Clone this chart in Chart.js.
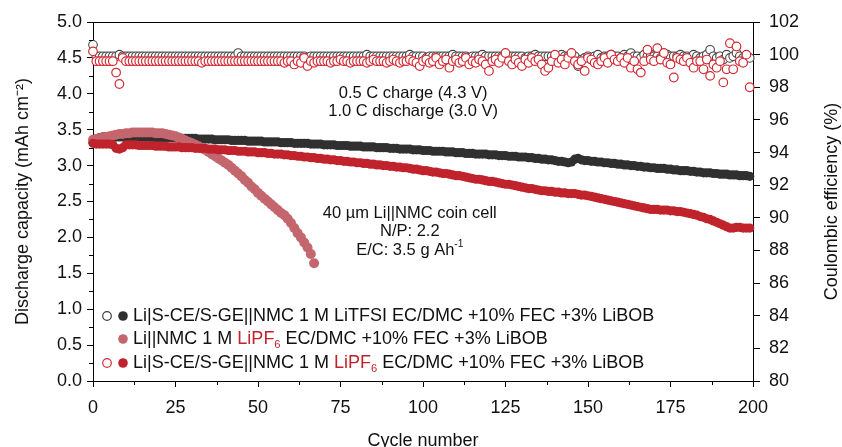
<!DOCTYPE html>
<html>
<head>
<meta charset="utf-8">
<script src="https://cdn.jsdelivr.net/npm/chart.js@4.4.1/dist/chart.umd.min.js"></script>
<style>
  html, body { margin: 0; padding: 0; background: #fff; overflow: hidden; }
  #wrap { width: 842px; height: 447px; overflow: hidden; }
</style>
</head>
<body>
<div id="wrap"><canvas id="cap" width="842" height="460"></canvas></div>
<script>
const FONT = '"Liberation Sans", Arial, Helvetica, sans-serif'
const RED = '#c1232c'
const RED_CE = '#d42a33'
const PINK = '#c4666d'
const DARK = '#303030'

// discharge capacity (mAh cm-2), one value per cycle starting at cycle 0
const capTFSI = [
  3.32, 3.37, 3.39, 3.40, 3.40, 3.40, 3.40, 3.40, 3.40, 3.40,
  3.40, 3.40, 3.40, 3.40, 3.40, 3.40, 3.40, 3.40, 3.39, 3.39,
  3.39, 3.39, 3.39, 3.39, 3.39, 3.39, 3.38, 3.38, 3.38, 3.38,
  3.38, 3.38, 3.37, 3.37, 3.37, 3.37, 3.37, 3.36, 3.36, 3.36,
  3.36, 3.36, 3.35, 3.35, 3.35, 3.35, 3.35, 3.34, 3.34, 3.34,
  3.34, 3.34, 3.33, 3.33, 3.33, 3.33, 3.33, 3.32, 3.32, 3.32,
  3.32, 3.31, 3.31, 3.31, 3.31, 3.31, 3.30, 3.30, 3.30, 3.30,
  3.29, 3.29, 3.29, 3.29, 3.28, 3.28, 3.28, 3.28, 3.27, 3.27,
  3.27, 3.27, 3.26, 3.26, 3.26, 3.26, 3.25, 3.25, 3.25, 3.25,
  3.24, 3.24, 3.24, 3.23, 3.23, 3.23, 3.23, 3.22, 3.22, 3.22,
  3.21, 3.21, 3.21, 3.20, 3.20, 3.20, 3.20, 3.19, 3.19, 3.19,
  3.18, 3.18, 3.18, 3.17, 3.17, 3.17, 3.16, 3.16, 3.16, 3.16,
  3.15, 3.15, 3.15, 3.14, 3.14, 3.14, 3.13, 3.13, 3.13, 3.12,
  3.12, 3.12, 3.11, 3.11, 3.10, 3.10, 3.09, 3.09, 3.08, 3.08,
  3.07, 3.06, 3.06, 3.05, 3.04, 3.05, 3.09, 3.10, 3.08, 3.07,
  3.07, 3.06, 3.06, 3.05, 3.05, 3.04, 3.04, 3.03, 3.03, 3.02,
  3.02, 3.01, 3.01, 3.00, 3.00, 2.99, 2.99, 2.98, 2.98, 2.97,
  2.97, 2.96, 2.96, 2.96, 2.95, 2.95, 2.94, 2.94, 2.93, 2.93,
  2.93, 2.92, 2.92, 2.91, 2.91, 2.90, 2.90, 2.90, 2.89, 2.89,
  2.88, 2.88, 2.88, 2.87, 2.87, 2.87, 2.86, 2.86, 2.86, 2.85
]
const capBare = [
  3.36, 3.37, 3.38, 3.39, 3.40, 3.41, 3.42, 3.43, 3.44, 3.44,
  3.45, 3.45, 3.46, 3.46, 3.46, 3.46, 3.46, 3.46, 3.46, 3.45,
  3.45, 3.45, 3.44, 3.43, 3.42, 3.41, 3.39, 3.37, 3.35, 3.33,
  3.31, 3.29, 3.27, 3.24, 3.22, 3.19, 3.16, 3.13, 3.10, 3.07,
  3.04, 3.01, 2.97, 2.93, 2.89, 2.85, 2.80, 2.76, 2.71, 2.67,
  2.62, 2.58, 2.54, 2.50, 2.46, 2.42, 2.38, 2.34, 2.31, 2.26,
  2.20, 2.13, 2.06, 2.00, 1.93, 1.86, 1.77, 1.64
]
const capPF6 = [
  3.31, 3.30, 3.30, 3.30, 3.30, 3.30, 3.29, 3.24, 3.23, 3.25,
  3.29, 3.29, 3.29, 3.29, 3.28, 3.28, 3.28, 3.28, 3.28, 3.27,
  3.27, 3.27, 3.27, 3.26, 3.26, 3.26, 3.26, 3.25, 3.25, 3.25,
  3.25, 3.24, 3.24, 3.24, 3.24, 3.23, 3.23, 3.23, 3.22, 3.22,
  3.22, 3.21, 3.21, 3.21, 3.20, 3.20, 3.20, 3.19, 3.19, 3.19,
  3.18, 3.18, 3.18, 3.17, 3.17, 3.16, 3.16, 3.16, 3.15, 3.15,
  3.14, 3.14, 3.13, 3.13, 3.12, 3.12, 3.11, 3.11, 3.10, 3.10,
  3.09, 3.09, 3.08, 3.08, 3.07, 3.07, 3.06, 3.06, 3.05, 3.05,
  3.04, 3.04, 3.03, 3.03, 3.02, 3.02, 3.01, 3.01, 3.00, 3.00,
  2.99, 2.99, 2.98, 2.98, 2.97, 2.97, 2.96, 2.95, 2.95, 2.94,
  2.93, 2.93, 2.92, 2.91, 2.91, 2.90, 2.89, 2.89, 2.88, 2.87,
  2.86, 2.86, 2.85, 2.84, 2.83, 2.82, 2.81, 2.81, 2.80, 2.79,
  2.78, 2.78, 2.77, 2.76, 2.75, 2.74, 2.74, 2.73, 2.72, 2.71,
  2.70, 2.69, 2.68, 2.68, 2.67, 2.66, 2.65, 2.65, 2.64, 2.64,
  2.63, 2.63, 2.62, 2.62, 2.61, 2.61, 2.61, 2.60, 2.59, 2.59,
  2.58, 2.57, 2.56, 2.55, 2.54, 2.53, 2.52, 2.51, 2.50, 2.49,
  2.48, 2.47, 2.46, 2.45, 2.44, 2.43, 2.42, 2.41, 2.40, 2.39,
  2.39, 2.39, 2.38, 2.38, 2.38, 2.37, 2.37, 2.36, 2.36, 2.35,
  2.34, 2.33, 2.32, 2.31, 2.29, 2.28, 2.26, 2.25, 2.23, 2.21,
  2.19, 2.17, 2.15, 2.13, 2.13, 2.14, 2.14, 2.13, 2.13, 2.13
]

// coulombic efficiency (%)
const ceTFSI = [
  100.6, 99.9, 99.9, 99.9, 99.9, 99.9, 99.9, 99.9, 100.0, 99.9,
  99.9, 99.9, 99.9, 99.9, 99.9, 99.9, 99.9, 99.9, 99.9, 99.9,
  99.9, 99.9, 99.9, 99.9, 99.9, 99.9, 99.9, 99.9, 99.9, 99.9,
  99.9, 99.9, 99.9, 99.9, 99.9, 99.9, 99.9, 99.9, 99.9, 99.9,
  99.9, 99.9, 99.9, 99.9, 100.1, 99.9, 99.9, 99.9, 99.9, 99.9,
  99.9, 99.9, 99.9, 99.9, 99.9, 99.9, 99.9, 99.9, 99.9, 99.9,
  99.9, 99.9, 99.9, 99.9, 99.9, 99.8, 99.9, 99.9, 99.9, 99.9,
  99.9, 99.9, 99.9, 99.9, 99.9, 99.9, 99.9, 99.9, 99.9, 99.9,
  99.9, 99.9, 99.9, 100.0, 99.9, 99.9, 99.9, 99.9, 99.9, 99.9,
  99.9, 99.9, 99.9, 99.9, 99.9, 99.9, 100.0, 99.9, 99.9, 99.9,
  99.9, 99.8, 99.9, 99.9, 99.9, 99.9, 99.9, 99.9, 99.9, 100.0,
  99.9, 99.9, 99.9, 99.9, 99.8, 99.9, 99.9, 99.9, 100.0, 99.9,
  99.9, 99.9, 99.9, 99.9, 99.9, 100.0, 99.9, 99.9, 99.9, 99.9,
  99.9, 99.8, 99.9, 99.9, 100.0, 99.9, 99.9, 99.9, 99.9, 99.9,
  99.9, 99.9, 100.0, 99.9, 99.9, 99.9, 99.9, 99.3, 99.7, 99.8,
  99.9, 99.7, 99.9, 100.0, 99.8, 99.9, 99.9, 100.0, 99.9, 99.9,
  99.8, 100.0, 99.9, 100.1, 99.9, 99.9, 99.8, 100.0, 99.9, 100.0,
  99.9, 99.9, 99.8, 99.9, 100.0, 99.9, 99.9, 99.9, 100.0, 99.9,
  99.9, 99.8, 100.0, 99.9, 99.8, 99.9, 100.0, 100.3, 99.9, 99.8,
  99.9, 99.7, 100.0, 99.8, 99.9, 100.1, 99.9, 99.8, 99.9, 99.8
]
const cePF6 = [
  100.2, 99.6, 99.6, 99.6, 99.6, 99.6, 99.6, 98.9, 98.2, 99.8,
  99.6, 99.6, 99.6, 99.6, 99.6, 99.6, 99.6, 99.6, 99.6, 99.6,
  99.6, 99.6, 99.6, 99.6, 99.6, 99.6, 99.6, 99.6, 99.6, 99.6,
  99.6, 99.6, 99.6, 99.5, 99.6, 99.6, 99.6, 99.6, 99.6, 99.6,
  99.6, 99.6, 99.6, 99.6, 99.6, 99.6, 99.6, 99.6, 99.6, 99.6,
  99.6, 99.6, 99.6, 99.6, 99.6, 99.6, 99.6, 99.6, 99.5, 99.6,
  99.6, 99.4, 99.6, 99.5, 99.8, 99.3, 99.6, 99.5, 99.6, 99.6,
  99.6, 99.6, 99.5, 99.6, 99.6, 99.7, 99.6, 99.6, 99.5, 99.6,
  99.6, 99.6, 99.6, 99.5, 99.6, 99.7, 99.6, 99.6, 99.6, 99.5,
  99.6, 99.7, 99.6, 99.5, 99.6, 99.6, 99.7, 99.6, 99.5, 99.3,
  99.6, 99.7, 99.5, 99.6, 99.8, 99.4, 99.6, 99.7, 99.2, 99.6,
  99.7, 99.5, 99.6, 99.8, 99.4, 99.6, 99.5, 99.7, 99.6, 99.4,
  99.0, 99.6, 99.7, 99.5, 99.8, 100.1, 99.6, 99.4, 99.7, 99.5,
  99.3, 99.7, 99.5, 99.8, 99.6, 99.7, 99.4, 99.0, 99.2, 99.6,
  100.0, 99.5, 99.7, 99.4, 99.8, 100.1, 99.6, 99.4, 99.6, 99.0,
  99.8, 99.7, 99.5, 99.4, 99.6, 99.8, 99.5, 100.0, 99.7, 99.6,
  99.8, 99.5, 99.8, 99.2, 99.6, 99.1, 98.9, 99.6, 100.3, 99.7,
  99.6, 100.4, 99.7, 100.1, 99.5, 99.4, 98.6, 99.8, 99.7, 99.6,
  99.8, 99.5, 99.2, 99.6, 99.6, 99.1, 99.7, 98.7, 99.4, 99.2,
  99.6, 98.3, 99.1, 100.7, 99.1, 100.5, 99.6, 99.5, 100.0, 98.0
]

const xTicks = [0, 25, 50, 75, 100, 125, 150, 175, 200]
const xMinor = [12.5, 37.5, 62.5, 87.5, 112.5, 137.5, 162.5, 187.5]
const capTicks = [0, 0.5, 1, 1.5, 2, 2.5, 3, 3.5, 4, 4.5, 5]
const capMinor = [0.25, 0.75, 1.25, 1.75, 2.25, 2.75, 3.25, 3.75, 4.25, 4.75]
const ceTicks = [80, 82, 84, 86, 88, 90, 92, 94, 96, 98, 100, 102]

const legendRows = [
  { open: '#3c3c3c', fill: DARK, parts: [['Li|S-CE/S-GE||NMC 1 M LiTFSI EC/DMC +10% FEC +3% LiBOB', '#111']] },
  { open: null, fill: PINK, parts: [['Li||NMC 1 M ', '#111'], ['LiPF', RED], ['6', RED, 'sub'], [' EC/DMC +10% FEC +3% LiBOB', '#111']] },
  { open: RED_CE, fill: RED, parts: [['Li|S-CE/S-GE||NMC 1 M ', '#111'], ['LiPF', RED], ['6', RED, 'sub'], [' EC/DMC +10% FEC +3% LiBOB', '#111']] }
]

// notes placed in data units (cycle, capacity)
const notes = [
  { x: 97, y: 4.01, parts: [['0.5 C charge (4.3 V)']] },
  { x: 97, y: 3.76, parts: [['1.0 C discharge (3.0 V)']] },
  { x: 96, y: 2.33, parts: [['40 µm Li||NMC coin cell']] },
  { x: 96, y: 2.08, parts: [['N/P: 2.2']] },
  { x: 96, y: 1.82, parts: [['E/C: 3.5 g Ah'], ['-1', 'sup']] }
]

function pts(arr) {
  return arr.map((v, i) => ({ x: i, y: v }))
}

// text runs with optional sub/superscript pieces
function runWidth(ctx, parts, size) {
  let w = 0
  parts.forEach(p => {
    const small = p.includes('sub') || p.includes('sup')
    ctx.font = (small ? size * 0.62 : size) + 'px ' + FONT
    w += ctx.measureText(p[0]).width
  })
  return w
}
function drawRun(ctx, parts, x, y, size, color) {
  parts.forEach(p => {
    const small = p.includes('sub') || p.includes('sup')
    ctx.font = (small ? size * 0.62 : size) + 'px ' + FONT
    ctx.fillStyle = (p[1] && p[1][0] === '#') ? p[1] : color
    let dy = 0
    if (p.includes('sub')) dy = size * 0.32
    if (p.includes('sup')) dy = -size * 0.38
    ctx.fillText(p[0], x, y + dy)
    x += ctx.measureText(p[0]).width
  })
}

const extras = {
  id: 'extras',
  afterDraw(chart) {
    const { ctx, chartArea: a, scales } = chart
    ctx.save()
    // top frame line
    ctx.strokeStyle = '#000'
    ctx.lineWidth = 1
    ctx.beginPath()
    ctx.moveTo(a.left, a.top + 0.5)
    ctx.lineTo(a.right, a.top + 0.5)
    ctx.stroke()
    // minor ticks
    ctx.beginPath()
    xMinor.forEach(v => {
      const px = Math.round(scales.x.getPixelForValue(v)) + 0.5
      ctx.moveTo(px, a.bottom)
      ctx.lineTo(px, a.bottom + 4)
    })
    capMinor.forEach(v => {
      const py = Math.round(scales.y.getPixelForValue(v)) + 0.5
      ctx.moveTo(a.left, py)
      ctx.lineTo(a.left - 4, py)
    })
    ctx.stroke()

    // right axis title, reading bottom to top
    ctx.save()
    ctx.translate(a.right + 79, (a.top + a.bottom) / 2)
    ctx.rotate(-Math.PI / 2)
    ctx.font = '18px ' + FONT
    ctx.fillStyle = '#111'
    ctx.textAlign = 'center'
    ctx.textBaseline = 'middle'
    ctx.fillText('Coulombic efficiency (%)', 0, 0)
    ctx.restore()

    // notes
    ctx.textBaseline = 'middle'
    ctx.textAlign = 'left'
    notes.forEach(n => {
      const w = runWidth(ctx, n.parts, 16.5)
      const px = scales.x.getPixelForValue(n.x) - w / 2
      const py = scales.y.getPixelForValue(n.y)
      drawRun(ctx, n.parts, px, py, 16.5, '#111')
    })

    // legend
    const rowY = [a.bottom - 65, a.bottom - 42, a.bottom - 18]
    legendRows.forEach((r, i) => {
      const y = rowY[i]
      if (r.open) {
        ctx.beginPath()
        ctx.arc(a.left + 14, y, 4.3, 0, Math.PI * 2)
        ctx.fillStyle = '#fff'
        ctx.fill()
        ctx.lineWidth = 1.2
        ctx.strokeStyle = r.open
        ctx.stroke()
      }
      ctx.beginPath()
      ctx.arc(a.left + 30, y, 4.8, 0, Math.PI * 2)
      ctx.fillStyle = r.fill
      ctx.fill()
      drawRun(ctx, r.parts, a.left + 40, y, 18, '#111')
    })
    ctx.restore()
  }
}

function pointSet(label, data, axis, fill, stroke, radius, bw, order) {
  return {
    label, data: pts(data), yAxisID: axis, order, clip: false, showLine: false,
    pointRadius: radius, pointHoverRadius: radius,
    pointBackgroundColor: fill, pointBorderColor: stroke, pointBorderWidth: bw,
    backgroundColor: fill, borderColor: stroke
  }
}

const tickFont = { family: FONT, size: 18 }
const titleFont = { family: FONT, size: 18 }

new Chart(document.getElementById('cap'), {
  type: 'scatter',
  data: {
    datasets: [
      pointSet('PF6 capacity', capPF6, 'y', RED, RED, 4.6, 0, 1),
      pointSet('bare capacity', capBare, 'y', PINK, PINK, 5, 0, 2),
      pointSet('TFSI capacity', capTFSI, 'y', DARK, DARK, 4.6, 0, 3),
      pointSet('PF6 CE', cePF6, 'y1', '#fff', RED_CE, 4.3, 1.2, 4),
      pointSet('TFSI CE', ceTFSI, 'y1', '#fff', '#444', 4.3, 1.1, 5)
    ]
  },
  options: {
    responsive: false,
    animation: false,
    devicePixelRatio: 1,
    layout: { padding: { top: 22, left: 0, right: 0, bottom: 0 } },
    plugins: { legend: { display: false }, tooltip: { enabled: false } },
    scales: {
      x: {
        type: 'linear', min: 0, max: 200,
        afterFit: s => { s.height = 79 },
        afterBuildTicks: s => { s.ticks = xTicks.map(v => ({ value: v })) },
        ticks: { font: tickFont, color: '#111', padding: 10, maxRotation: 0, autoSkip: false },
        grid: { drawOnChartArea: false, tickLength: 6, color: '#000' },
        border: { color: '#000', width: 1 },
        title: { display: true, text: 'Cycle number', color: '#111', font: titleFont, padding: { top: 0, bottom: 8 } }
      },
      y: {
        position: 'left', min: 0, max: 5,
        afterFit: s => { s.width = 93 },
        afterBuildTicks: s => { s.ticks = capTicks.map(v => ({ value: v })) },
        ticks: { font: tickFont, color: '#111', padding: 5, autoSkip: false, callback: v => v.toFixed(1) },
        grid: { drawOnChartArea: false, tickLength: 6, color: '#000' },
        border: { color: '#000', width: 1 },
        title: { display: true, text: 'Discharge capacity (mAh cm⁻²)', color: '#111', font: titleFont, padding: { top: 12, bottom: 0 } }
      },
      y1: {
        position: 'right', min: 80, max: 102,
        afterFit: s => { s.width = 89 },
        afterBuildTicks: s => { s.ticks = ceTicks.map(v => ({ value: v })) },
        ticks: { font: tickFont, color: '#111', padding: 9, autoSkip: false },
        grid: { drawOnChartArea: false, tickLength: 7, color: '#000' },
        border: { color: '#000', width: 1 }
      }
    }
  },
  plugins: [extras]
})
</script>
</body>
</html>
